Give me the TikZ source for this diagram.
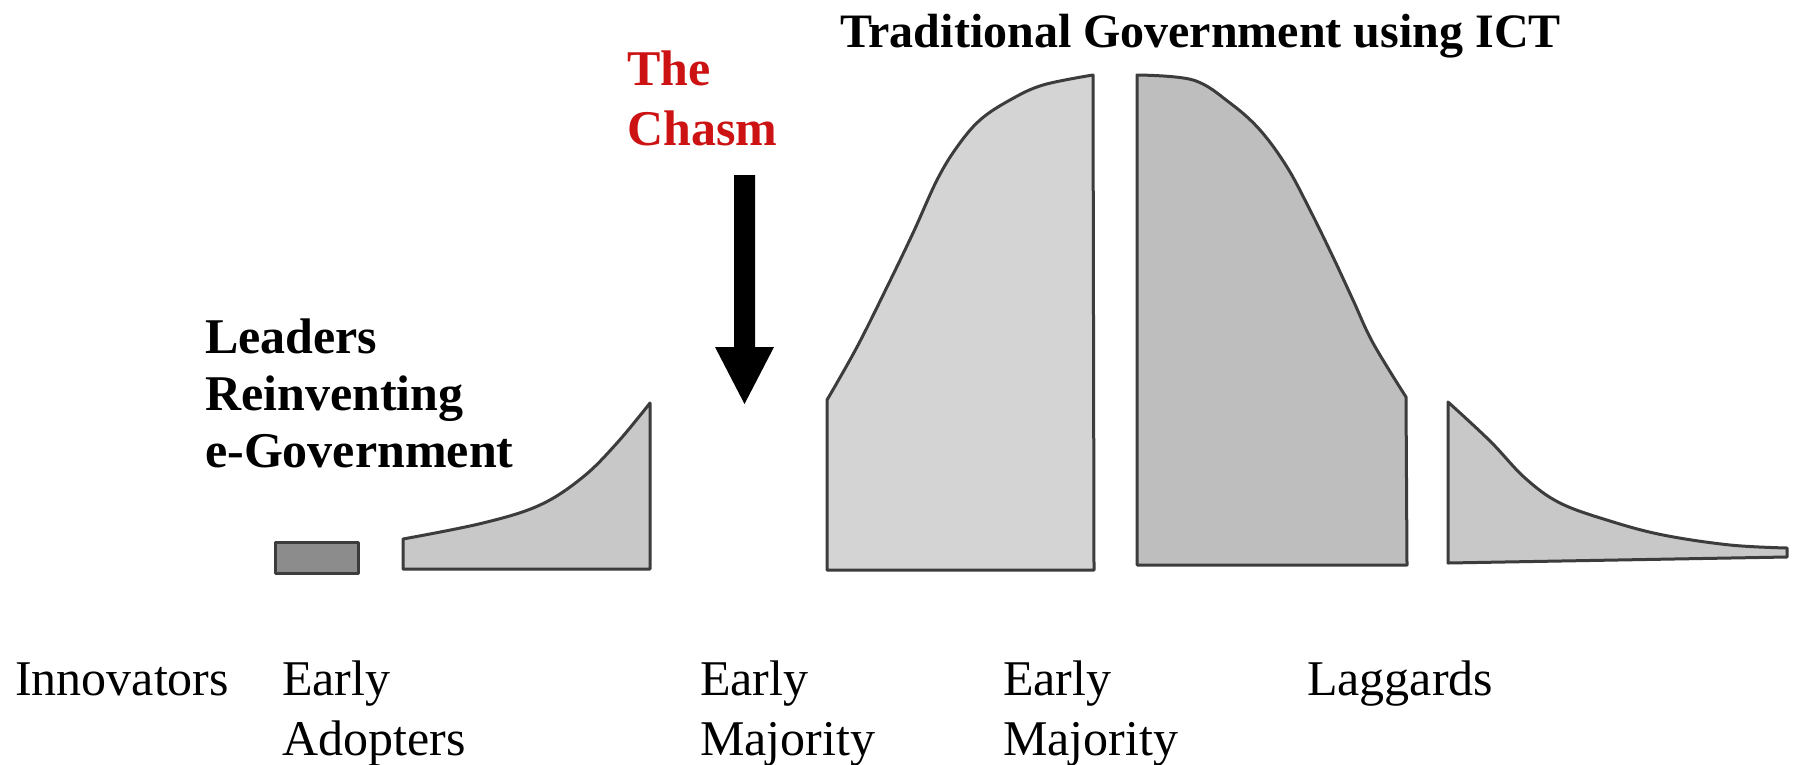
\documentclass[tikz,border=0pt]{standalone}
\usepackage{fontspec}
\setmainfont{Liberation Serif}
\definecolor{chasmred}{RGB}{204,18,18}
\definecolor{edgegray}{RGB}{60,60,60}
\definecolor{fillA}{RGB}{200,200,200}
\definecolor{fillB}{RGB}{212,212,212}
\definecolor{fillC}{RGB}{190,190,190}
\definecolor{fillD}{RGB}{140,140,140}
\newcommand{\twoline}[3]{\vtop{\baselineskip=#1pt\hbox{#2}\hbox{#3}}}
\newcommand{\threeline}[4]{\vtop{\baselineskip=#1pt\hbox{#2}\hbox{#3}\hbox{#4}}}
\tikzset{
  segment/.style={draw=edgegray, line width=3pt, line join=round},
  cat/.style={anchor=base west, inner sep=0pt, font=\fontsize{50}{60}\selectfont},
  head/.style={anchor=base west, inner sep=0pt, font=\fontsize{50}{57}\selectfont\bfseries},
}
\begin{document}
\begin{tikzpicture}[x=1pt,y=-1pt]
\useasboundingbox (0,0) rectangle (1798,764);
\fill[white] (0,0) rectangle (1798,764);
% segments of the adoption curve
\draw[segment, fill=fillD] (275,542) rectangle (358,573);
\draw[segment, fill=fillA] (403,569) -- plot[smooth, tension=0.6] coordinates {(403,539) (483,523) (540,505) (583,477) (617,443) (650,403)} -- (650,569) -- cycle;
\draw[segment, fill=fillB] (827,570) -- plot[smooth, tension=0.6] coordinates {(827,400) (857,347) (887,287) (913,233) (937,180) (957,147) (980,120) (1010,100) (1043,85) (1093,75)} -- (1094,570) -- cycle;
\draw[segment, fill=fillC] (1137,565) -- plot[smooth, tension=0.6] coordinates {(1137,75) (1193,80) (1230,103) (1260,130) (1287,167) (1310,210) (1333,257) (1353,300) (1373,343) (1406,397)} -- (1407,565) -- cycle;
\draw[segment, fill=fillA] (1448,563) -- plot[smooth, tension=0.6] coordinates {(1448,402) (1490,441) (1525,478) (1560,503) (1610,521) (1663,535) (1730,545) (1787,548)} -- (1787,557) -- cycle;
% chasm arrow
\fill[black] (734,175) -- (755,175) -- (755,347) -- (774,347) -- (744.5,404) -- (715,347) -- (734,347) -- cycle;
% headings
\node[head, font=\fontsize{48}{57}\selectfont\bfseries] (trad) at (840,47) {Traditional Government using ICT};
\node[head, text=chasmred] (chasm) at (627,85) {\twoline{60}{The}{Chasm}};
\node[head] (leaders) at (205,353) {\threeline{57}{Leaders}{Reinventing}{e-Government}};
% categories
\node[cat] (innov) at (15,695) {Innovators};
\node[cat] (early) at (282,695) {\twoline{60}{Early}{Adopters}};
\node[cat] (emaj) at (700,695) {\twoline{60}{Early}{Majority}};
\node[cat] (lmaj) at (1003,695) {\twoline{60}{Early}{Majority}};
\node[cat] (lagg) at (1307,695) {Laggards};
\end{tikzpicture}
\end{document}
